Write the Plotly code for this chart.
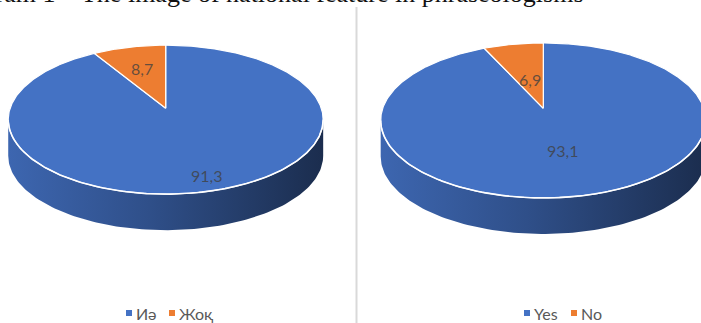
import numpy as np
import plotly.graph_objects as go

# ---------------- data ----------------
categories_left = ["Иә", "Жоқ"]
values_left = [91.3, 8.7]
categories_right = ["Yes", "No"]
values_right = [93.1, 6.9]
title_text = "Diagram 1 – The image of national feature in phraseologisms"

# ---------------- style ----------------
COLORS = ["#4472C4", "#ED7D31"]
LABEL_FONT = "Lato"
W, H = 701, 323

pies = [
    dict(cats=categories_left, vals=values_left, cx=165.7, cy=108.2, rx=155.6, ry=72.7,
         k=0.154, depth=36, label_r=[0.84, 0.62], legend_x=[129, 172], legend_y=313),
    dict(cats=categories_right, vals=values_right, cx=543.3, cy=108.3, rx=160.6, ry=75.6,
         k=0.157, depth=36, label_r=[0.52, 0.42], legend_x=[527, 574], legend_y=313),
]


def proj(p, theta_deg, r=1.0, dy=0.0):
    t = np.radians(theta_deg)
    s = 1.0 / (1.0 + p["k"] * r * np.cos(t))
    x = p["cx"] + p["rx"] * r * np.sin(t) * s
    y = p["cy"] - p["ry"] * r * np.cos(t) * s + dy
    return x, y


def shade(hexc, f):
    h = hexc.lstrip("#")
    r, g, b = (int(h[i:i + 2], 16) for i in (0, 2, 4))
    return "rgb(%d,%d,%d)" % (r * f, g * f, b * f)


fig = go.Figure()
annotations = []
shapes = []

for p in pies:
    vals = np.array(p["vals"], dtype=float)
    frac = vals / vals.sum()
    edges = np.concatenate([[0.0], np.cumsum(frac) * 360.0])
    tf1 = np.degrees(np.arccos(-p["k"]))
    tf2 = 360.0 - tf1

    # side walls (front visible part)
    for i in range(len(vals)):
        lo, hi = max(edges[i], tf1), min(edges[i + 1], tf2)
        if lo >= hi:
            continue
        th = np.linspace(lo, hi, 120)
        xt, yt = proj(p, th)
        xb, yb = proj(p, th[::-1], dy=p["depth"])
        c = COLORS[i % len(COLORS)]
        fig.add_trace(go.Scatter(
            x=np.concatenate([xt, xb, xt[:1]]), y=np.concatenate([yt, yb, yt[:1]]),
            mode="lines", line=dict(width=0), fill="toself",
            fillgradient=dict(type="horizontal",
                              colorscale=[[0, shade(c, 0.9)], [0.45, shade(c, 0.7)],
                                          [1, shade(c, 0.4)]]),
            hoverinfo="skip", showlegend=False))

    # top face slices
    for i in range(len(vals)):
        th = np.linspace(edges[i], edges[i + 1], max(8, int((edges[i + 1] - edges[i]) * 2)))
        xa, ya = proj(p, th)
        xv, yv = proj(p, 0.0, r=0.0)
        fig.add_trace(go.Scatter(
            x=np.concatenate([[xv], xa, [xv]]), y=np.concatenate([[yv], ya, [yv]]),
            mode="lines", line=dict(color="white", width=1.2), fill="toself",
            fillcolor=COLORS[i % len(COLORS)], hoverinfo="skip", showlegend=False))

    # white highlight on front rim
    th = np.linspace(tf1, tf2, 150)
    xr, yr = proj(p, th)
    fig.add_trace(go.Scatter(x=xr, y=yr, mode="lines",
                             line=dict(color="rgba(255,255,255,0.95)", width=1.6),
                             hoverinfo="skip", showlegend=False))

    # data labels
    for i, v in enumerate(vals):
        mid = (edges[i] + edges[i + 1]) / 2.0
        lx, ly = proj(p, mid, r=p["label_r"][i])
        annotations.append(dict(x=lx, y=ly, xref="x", yref="y", showarrow=False,
                                text=("%.1f" % v).replace(".", ","),
                                font=dict(family=LABEL_FONT, size=16,
                                          color="rgba(64,64,64,0.78)")))

    # legend
    for i, cat in enumerate(p["cats"]):
        fig.add_trace(go.Scatter(x=[p["legend_x"][i]], y=[p["legend_y"]], mode="markers",
                                 marker=dict(symbol="square", size=6,
                                             color=COLORS[i % len(COLORS)]),
                                 hoverinfo="skip", showlegend=False))
        annotations.append(dict(x=p["legend_x"][i] + 5, y=p["legend_y"], xref="x", yref="y",
                                xanchor="left", showarrow=False, text=cat,
                                font=dict(family=LABEL_FONT, size=16, color="#595959")))

# title (cropped at top in the reference)
annotations.append(dict(x=586, y=10, xref="x", yref="y", xanchor="right", yanchor="bottom",
                        showarrow=False, text=title_text,
                        font=dict(family="Liberation Serif", size=26, color="#111111")))

# divider
shapes.append(dict(type="line", xref="x", yref="y", x0=356.5, x1=356.5, y0=7, y1=H,
                   line=dict(color="#d9d9d9", width=2)))

fig.update_layout(
    width=W, height=H, margin=dict(l=0, r=0, t=0, b=0),
    paper_bgcolor="white", plot_bgcolor="white",
    xaxis=dict(range=[0, W], visible=False, fixedrange=True),
    yaxis=dict(range=[H, 0], visible=False, fixedrange=True),
    annotations=annotations, shapes=shapes, showlegend=False,
)

fig.write_html("out.html")
